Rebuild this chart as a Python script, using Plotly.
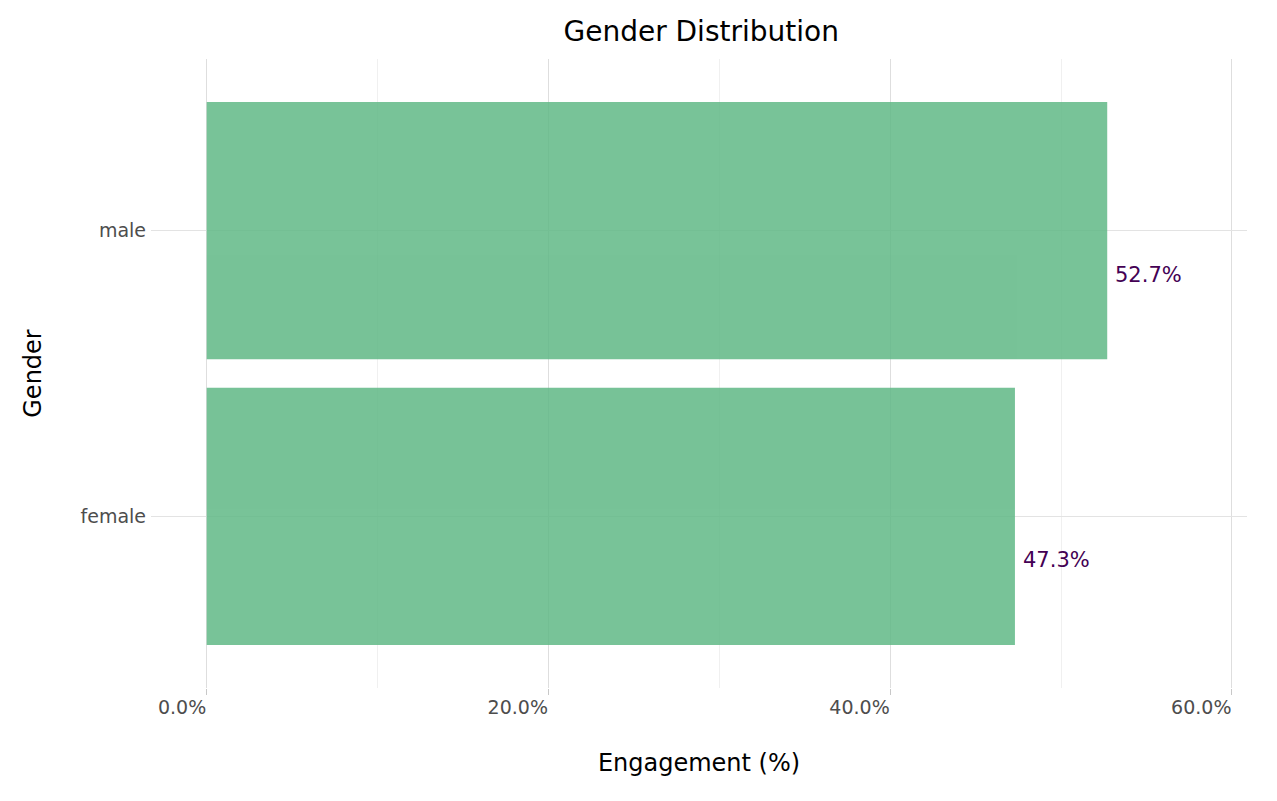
import plotly.graph_objects as go

categories = ["female", "male"]
values = [47.3, 52.7]
labels = ["47.3%", "52.7%"]
x_ticks = [0, 20, 40, 60]
x_tick_labels = ["0.0%", "20.0%", "40.0%", "60.0%"]

FONT = "DejaVu Sans"
BAR = "rgb(96,184,134)"
LABEL = "#440154"
W, H = 1261, 785

fig = go.Figure()
fig.add_trace(go.Bar(
    y=categories, x=values, orientation="h",
    marker=dict(color=BAR, line=dict(width=0)),
    opacity=0.85, width=0.9, showlegend=False, hoverinfo="x+y",
))

for c, v, t in zip(categories, values, labels):
    fig.add_annotation(
        x=v, y=c, text=t, showarrow=False,
        xanchor="left", yanchor="middle", xshift=6, yshift=-44,
        font=dict(family=FONT, size=21, color=LABEL),
    )

fig.update_layout(
    width=W, height=H,
    paper_bgcolor="white", plot_bgcolor="white",
    margin=dict(l=143, r=22, t=51, b=105, autoexpand=False),
    font=dict(family=FONT, color="#4d4d4d"),
    title=dict(text="Gender Distribution", x=0.502, xref="paper", xanchor="center",
               y=1 - 23 / H, yref="container", yanchor="middle",
               font=dict(family=FONT, size=28, color="black")),
    bargap=0.1,
)

fig.update_xaxes(
    range=[-3.26, 60.88],
    tickvals=x_ticks, ticktext=x_tick_labels,
    ticklabelposition="outside left", ticklabelstandoff=2,
    ticks="outside", ticklen=6, tickcolor="#c8c8c8", tickwidth=1,
    tickfont=dict(family=FONT, size=19, color="#4d4d4d"),
    showgrid=True, gridcolor="#dedede", gridwidth=1,
    minor=dict(tickvals=[10, 30, 50], showgrid=True, gridcolor="#f0f0f0", gridwidth=1, ticks=""),
    zeroline=False, showline=False,
    title=dict(text="Engagement (%)", standoff=37, font=dict(family=FONT, size=24, color="black")),
    automargin=False,
)
fig.update_yaxes(
    range=[-0.6, 1.6],
    categoryorder="array", categoryarray=categories,
    ticks="", ticklabelstandoff=4,
    tickfont=dict(family=FONT, size=19, color="#4d4d4d"),
    showgrid=True, gridcolor="#e3e3e3", gridwidth=1,
    zeroline=False, showline=False,
    title=dict(text="Gender", standoff=32, font=dict(family=FONT, size=24, color="black")),
    automargin=False,
)

fig.write_html("out.html")
